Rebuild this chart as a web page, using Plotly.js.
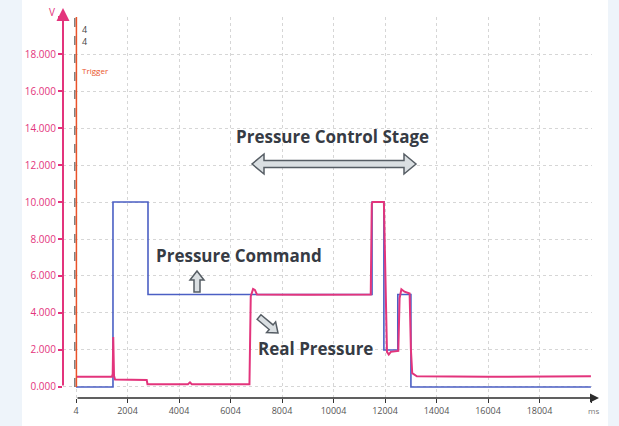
<!DOCTYPE html>
<html>
<head>
<meta charset="utf-8">
<script src="https://cdn.plot.ly/plotly-3.0.1.min.js"></script>
<style>html,body{margin:0;padding:0;background:#eef4fa;}#chart{width:619px;height:426px;}</style>
</head>
<body>
<div id="chart"></div>
<script>
// ---- data ----
var cmdT = [4, 1440, 1440, 2800, 2800, 11500, 11500, 11960, 11960, 12500, 12500, 13010, 13010, 20000];
var cmdV = [0, 0, 10, 10, 5, 5, 10, 10, 2, 2, 5, 5, 0, 0];

var realT = [4, 1400, 1430, 1450, 1480, 1520, 2750, 2780, 4350, 4430, 4500, 6740, 6790, 6880, 6950, 7030, 9000, 11450, 11490, 11520, 11960, 12020, 12080, 12150, 12230, 12520, 12570, 12640, 12760, 12960, 13010, 13060, 13240, 16000, 20000];
var realV = [0.55, 0.55, 0.7, 2.7, 0.6, 0.4, 0.38, 0.15, 0.15, 0.25, 0.15, 0.15, 4.9, 5.3, 5.25, 5.0, 4.98, 5.0, 9.9, 10.0, 10.0, 6.5, 1.9, 1.75, 1.9, 1.95, 4.8, 5.28, 5.15, 5.05, 2.0, 0.75, 0.58, 0.55, 0.58];

var xTickVals = [4, 2004, 4004, 6004, 8004, 10004, 12004, 14004, 16004, 18004, 20004];
var xTickText = ['4', '2004', '4004', '6004', '8004', '10004', '12004', '14004', '16004', '18004', ''];
var yTickVals = [0, 2, 4, 6, 8, 10, 12, 14, 16, 18, 20];
var yTickText = ['0.000', '2.000', '4.000', '6.000', '8.000', '10.000', '12.000', '14.000', '16.000', '18.000', ''];

// ---- layout geometry ----
var W = 619, H = 426, ML = 63, MR = 27, MT = 17, MB = 28;
var PW = W - ML - MR, PH = H - MT - MB;
function px(x) { return (x - ML) / PW; }
function py(y) { return (H - MB - y) / PH; }

var PINK = '#e3347c', BLUE = '#4b5fc4', RED = '#ea5228', DARK = '#363b44';
var ARROW_FILL = '#dadfe2', ARROW_LINE = '#565d64';

function pathFrom(pts) {
  return 'M' + pts.map(function (p) { return px(p[0]) + ',' + py(p[1]); }).join(' L') + ' Z';
}
function blockArrow(tx, ty, hx, hy, sw, hw, hl) {
  var L = Math.hypot(hx - tx, hy - ty), ux = (hx - tx) / L, uy = (hy - ty) / L, nx = -uy, ny = ux;
  var kx = hx - ux * hl, ky = hy - uy * hl;
  return pathFrom([
    [tx + nx * sw, ty + ny * sw], [kx + nx * sw, ky + ny * sw], [kx + nx * hw, ky + ny * hw], [hx, hy],
    [kx - nx * hw, ky - ny * hw], [kx - nx * sw, ky - ny * sw], [tx - nx * sw, ty - ny * sw]
  ]);
}
function doubleArrow(ax, ay, bx, by, sw, hw, hl) {
  var L = Math.hypot(bx - ax, by - ay), ux = (bx - ax) / L, uy = (by - ay) / L, nx = -uy, ny = ux;
  var k1x = ax + ux * hl, k1y = ay + uy * hl, k2x = bx - ux * hl, k2y = by - uy * hl;
  return pathFrom([
    [ax, ay], [k1x + nx * hw, k1y + ny * hw], [k1x + nx * sw, k1y + ny * sw], [k2x + nx * sw, k2y + ny * sw],
    [k2x + nx * hw, k2y + ny * hw], [bx, by], [k2x - nx * hw, k2y - ny * hw], [k2x - nx * sw, k2y - ny * sw],
    [k1x - nx * sw, k1y - ny * sw], [k1x - nx * hw, k1y - ny * hw]
  ]);
}

var traces = [
  { x: cmdT, y: cmdV, type: 'scatter', mode: 'lines', line: { color: BLUE, width: 1.6 }, name: 'Pressure Command', hoverinfo: 'skip' },
  { x: realT, y: realV, type: 'scatter', mode: 'lines', line: { color: PINK, width: 2 }, name: 'Real Pressure', hoverinfo: 'skip' }
];

var arrowStyle = { type: 'path', xref: 'paper', yref: 'paper', fillcolor: ARROW_FILL, line: { color: ARROW_LINE, width: 1.5 }, layer: 'above' };

var layout = {
  width: W, height: H,
  margin: { l: ML, r: MR, t: MT, b: MB, pad: 0 },
  paper_bgcolor: '#eef4fa',
  plot_bgcolor: '#ffffff',
  showlegend: false,
  font: { family: 'Open Sans, DejaVu Sans, sans-serif' },
  xaxis: {
    range: [-501, 20042], tickmode: 'array', tickvals: xTickVals, ticktext: xTickText,
    showgrid: true, gridcolor: '#d6d6d6', griddash: 'dot', gridwidth: 1, zeroline: false,
    showline: false, ticks: 'outside', ticklen: 4, tickcolor: '#333', tickwidth: 1,
    tickfont: { size: 9, color: '#555', family: 'Open Sans, sans-serif' }, fixedrange: true
  },
  yaxis: {
    range: [-0.595, 20], tickmode: 'array', tickvals: yTickVals, ticktext: yTickText,
    showgrid: true, gridcolor: '#d6d6d6', griddash: 'dot', gridwidth: 1, zeroline: false,
    showline: false, ticks: 'outside', ticklen: 4, tickcolor: PINK, tickwidth: 1.5,
    tickfont: { size: 10, color: PINK, family: 'Open Sans, sans-serif' }, fixedrange: true
  },
  shapes: [
    { type: 'rect', xref: 'paper', yref: 'paper', x0: px(22), x1: px(608), y0: py(0), y1: py(H), fillcolor: '#ffffff', line: { width: 0 }, layer: 'below' },
    { type: 'line', xref: 'x', yref: 'y', x0: -40, x1: -40, y0: 0, y1: 20, line: { color: '#3a3a3a', width: 1, dash: 'dash' } },
    { type: 'line', xref: 'x', yref: 'y', x0: 20, x1: 20, y0: 0, y1: 20, line: { color: RED, width: 1.5 } },
    Object.assign({ path: doubleArrow(252, 164, 416, 164, 3.5, 10, 12) }, arrowStyle),
    Object.assign({ path: blockArrow(197, 292, 197, 271, 3, 7, 9) }, arrowStyle),
    Object.assign({ path: blockArrow(259, 317, 278, 333, 3, 7, 9) }, arrowStyle)
  ],
  annotations: [
    // y axis line with arrow
    { xref: 'paper', yref: 'paper', x: 0, y: py(8), ax: 0, ay: 379, axref: 'pixel', ayref: 'pixel', text: '', showarrow: true, arrowhead: 2, arrowsize: 1.3, arrowwidth: 2, arrowcolor: PINK },
    // x axis line with arrow
    { xref: 'paper', yref: 'paper', x: px(599), y: py(398), ax: -(599 - 76), ay: 0, axref: 'pixel', ayref: 'pixel', text: '', showarrow: true, arrowhead: 2, arrowsize: 1.2, arrowwidth: 1.5, arrowcolor: '#2d2d2d' },
    { xref: 'paper', yref: 'paper', x: px(52), y: py(12), text: 'V', showarrow: false, font: { size: 10, color: PINK }, xanchor: 'center', yanchor: 'middle' },
    { xref: 'paper', yref: 'paper', x: px(593), y: py(410), text: 'ms', showarrow: false, font: { size: 8, color: '#777' }, xanchor: 'center', yanchor: 'middle' },
    { xref: 'paper', yref: 'paper', x: px(80), y: py(29), text: '4', showarrow: false, font: { size: 9, color: '#444' }, xanchor: 'left', yanchor: 'middle' },
    { xref: 'paper', yref: 'paper', x: px(80), y: py(41), text: '4', showarrow: false, font: { size: 9, color: '#444' }, xanchor: 'left', yanchor: 'middle' },
    { xref: 'paper', yref: 'paper', x: px(80), y: py(70), text: 'Trigger', showarrow: false, font: { size: 8, color: RED }, xanchor: 'left', yanchor: 'middle' },
    { xref: 'paper', yref: 'paper', x: px(332), y: py(136), text: '<b>Pressure Control Stage</b>', showarrow: false, font: { size: 17, color: DARK }, xanchor: 'center', yanchor: 'middle' },
    { xref: 'paper', yref: 'paper', x: px(239), y: py(256), text: '<b>Pressure Command</b>', showarrow: false, font: { size: 17, color: DARK }, xanchor: 'center', yanchor: 'middle' },
    { xref: 'paper', yref: 'paper', x: px(315), y: py(348), text: '<b>Real Pressure</b>', showarrow: false, font: { size: 17, color: DARK }, xanchor: 'center', yanchor: 'middle' }
  ]
};

Plotly.newPlot('chart', traces, layout, { displayModeBar: false, staticPlot: true });
</script>
</body>
</html>
